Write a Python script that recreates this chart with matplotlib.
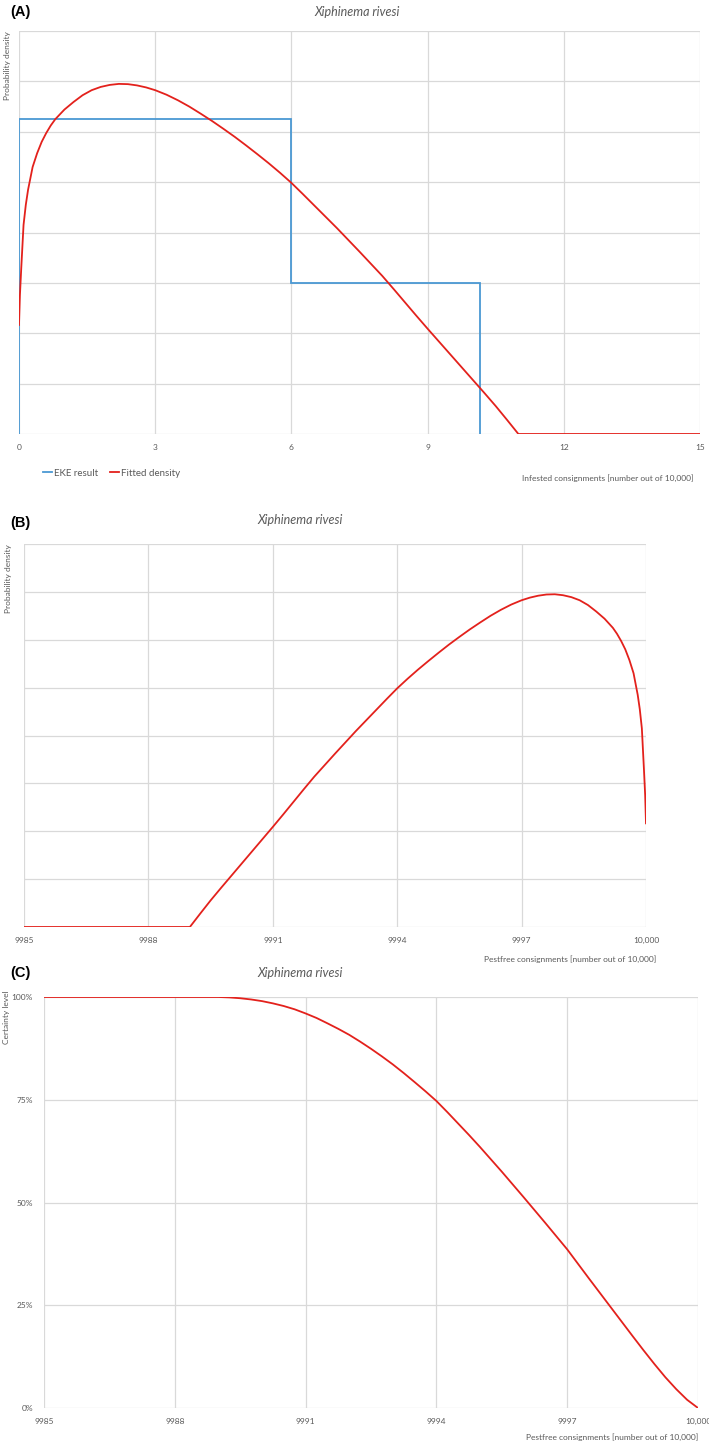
import matplotlib
matplotlib.use("Agg")
import matplotlib.pyplot as plt
from matplotlib.lines import Line2D
import numpy as np

# ---------------- data ----------------
species = "Xiphinema rivesi"

# Panel A: EKE step density (bin edges and density per bin)
eke_edges = [0, 6, 10.16]
eke_density = [0.125, 0.06]

# Panel A: fitted density (infested consignments, number out of 10,000)
infested = [0, 0.02, 0.05, 0.1, 0.15, 0.2, 0.3, 0.4, 0.5, 0.6, 0.7, 0.8, 1.0,
            1.2, 1.4, 1.6, 1.8, 2.0, 2.2, 2.4, 2.6, 2.8, 3.0, 3.25, 3.5, 3.75,
            4.0, 4.25, 4.5, 4.75, 5.0, 5.25, 5.5, 5.75, 6.0, 6.25, 6.5, 6.75,
            7.0, 7.25, 7.5, 7.75, 8.0, 8.25, 8.5, 8.75, 9.0, 9.25, 9.5, 9.75,
            10.0, 10.25, 10.5, 10.75, 11.0, 12, 13, 14, 15]
fitted_density = [0.0433, 0.055, 0.066, 0.083, 0.091, 0.097, 0.106, 0.1115,
                  0.116, 0.1195, 0.1225, 0.125, 0.1288, 0.1318, 0.1345, 0.1365,
                  0.1378, 0.1386, 0.139, 0.1389, 0.1384, 0.1376, 0.1365, 0.1347,
                  0.1325, 0.1300, 0.1272, 0.1243, 0.1212, 0.1180, 0.1146, 0.1111,
                  0.1075, 0.1037, 0.0997, 0.0953, 0.0908, 0.0863, 0.0818, 0.0771,
                  0.0724, 0.0676, 0.0628, 0.0576, 0.0523, 0.0470, 0.0418, 0.0367,
                  0.0316, 0.0265, 0.0214, 0.0163, 0.0111, 0.0056, 0.0, 0.0, 0.0,
                  0.0, 0.0]

# Panel B: same density on the pest-free scale (10,000 - infested)
total_consignments = 10000

# Panel C: certainty level vs pest-free consignments
pestfree_c = [9985, 9988, 9989, 9989.25, 9989.5, 9989.75, 9990, 9990.25, 9990.5,
              9990.75, 9991, 9991.25, 9991.5, 9991.75, 9992, 9992.25, 9992.5,
              9992.75, 9993, 9993.25, 9993.5, 9993.75, 9994, 9994.25, 9994.5,
              9994.75, 9995, 9995.25, 9995.5, 9995.75, 9996, 9996.25, 9996.5,
              9996.75, 9997, 9997.25, 9997.5, 9997.75, 9998, 9998.25, 9998.5,
              9998.75, 9999, 9999.25, 9999.5, 9999.75, 10000]
certainty = [100, 100, 100, 99.9, 99.7, 99.4, 99.0, 98.45, 97.8, 97.0, 96.0,
             94.9, 93.6, 92.25, 90.8, 89.15, 87.4, 85.55, 83.6, 81.5, 79.3, 77.05,
             74.7, 72.0, 69.2, 66.4, 63.5, 60.5, 57.5, 54.4, 51.3, 48.15, 45.0,
             41.8, 38.6, 35.05, 31.5, 28.0, 24.5, 21.0, 17.5, 14.05, 10.7, 7.5,
             4.6, 2.0, 0]

a_xticks = [0, 3, 6, 9, 12, 15]
b_xticks = [9985, 9988, 9991, 9994, 9997, 10000]
b_xticklabels = ["9985", "9988", "9991", "9994", "9997", "10,000"]
c_yticks = [0, 25, 50, 75, 100]
c_yticklabels = ["0%", "25%", "50%", "75%", "100%"]

# ---------------- style ----------------
W, H = 709, 1443
RED = "#e3211c"
BLUE = "#4a98d3"
GRID = "#d9d9d9"
TXT = "#595959"
FONT = ["Lato", "DejaVu Sans"]

fig = plt.figure(figsize=(W / 100, H / 100), dpi=100)


def px_axes(left, top, right, bottom):
    return fig.add_axes([left / W, 1 - bottom / H, (right - left) / W, (bottom - top) / H])


def ftext(x, y, s, **kw):
    kw.setdefault("family", FONT)
    kw.setdefault("color", TXT)
    fig.text(x / W, 1 - y / H, s, **kw)


def style(ax):
    for sp in ax.spines.values():
        sp.set_visible(False)
    ax.grid(True, color=GRID, lw=0.9)
    ax.set_axisbelow(True)
    ax.tick_params(length=0, labelsize=6, labelcolor=TXT, pad=7)
    for lab in ax.get_xticklabels() + ax.get_yticklabels():
        lab.set_family(FONT)


# ---------------- Panel A ----------------
axA = px_axes(19, 31, 700, 434)
step_x = [eke_edges[0]]
step_y = [0]
for i, d in enumerate(eke_density):
    step_x += [eke_edges[i], eke_edges[i + 1]]
    step_y += [d, d]
step_x += [eke_edges[-1]]
step_y += [0]
axA.plot(step_x, step_y, color=BLUE, lw=1.3, solid_joinstyle="miter")
axA.plot(infested, fitted_density, color=RED, lw=1.3)
axA.set_xlim(0, 15)
axA.set_ylim(0, 0.16)
axA.set_xticks(a_xticks)
axA.set_yticks(np.arange(0, 0.161, 0.02))
axA.set_yticklabels([])
style(axA)

ftext(10, 12, "(A)", family=["Liberation Sans", "DejaVu Sans"], weight="bold",
      color="black", fontsize=10.5, va="center", ha="left")
ftext(357, 12, species, style="italic", fontsize=9, va="center", ha="center")
ftext(8, 31, "Probability density", rotation=90, fontsize=6, va="top", ha="center")
ftext(694, 478, "Infested consignments [number out of 10,000]", fontsize=6,
      va="center", ha="right")
handles = [Line2D([], [], color=BLUE, lw=1.3), Line2D([], [], color=RED, lw=1.3)]
leg = fig.legend(handles, ["EKE result", "Fitted density"], loc="center left",
                 bbox_to_anchor=(34 / W, 1 - 473 / H), ncol=2, frameon=False,
                 handlelength=1.0, handletextpad=0.15, columnspacing=1.2,
                 prop={"family": FONT, "size": 7})
for t in leg.get_texts():
    t.set_color(TXT)

# ---------------- Panel B ----------------
axB = px_axes(24, 544, 646, 927)
pestfree_b = [total_consignments - v for v in infested]
axB.plot(pestfree_b, fitted_density, color=RED, lw=1.3)
axB.set_xlim(9985, 10000)
axB.set_ylim(0, 0.16)
axB.set_xticks(b_xticks)
axB.set_xticklabels(b_xticklabels)
axB.set_yticks(np.arange(0, 0.161, 0.02))
axB.set_yticklabels([])
style(axB)

ftext(10, 523, "(B)", family=["Liberation Sans", "DejaVu Sans"], weight="bold",
      color="black", fontsize=10.5, va="center", ha="left")
ftext(300, 520, species, style="italic", fontsize=9, va="center", ha="center")
ftext(9, 544, "Probability density", rotation=90, fontsize=6, va="top", ha="center")
ftext(656, 959, "Pestfree consignments [number out of 10,000]", fontsize=6,
      va="center", ha="right")

# ---------------- Panel C ----------------
axC = px_axes(44, 997, 698, 1408)
axC.plot(pestfree_c, certainty, color=RED, lw=1.3)
axC.set_xlim(9985, 10000)
axC.set_ylim(0, 100)
axC.set_xticks(b_xticks)
axC.set_xticklabels(b_xticklabels)
axC.set_yticks(c_yticks)
axC.set_yticklabels(c_yticklabels)
style(axC)
axC.tick_params(axis="y", pad=8)

ftext(10, 973, "(C)", family=["Liberation Sans", "DejaVu Sans"], weight="bold",
      color="black", fontsize=10.5, va="center", ha="left")
ftext(300, 973, species, style="italic", fontsize=9, va="center", ha="center")
ftext(6, 1017, "Certainty level", rotation=90, fontsize=6, va="center", ha="center")
ftext(698, 1437, "Pestfree consignments [number out of 10,000]", fontsize=6,
      va="center", ha="right")

fig.savefig("out.png", dpi=100)
